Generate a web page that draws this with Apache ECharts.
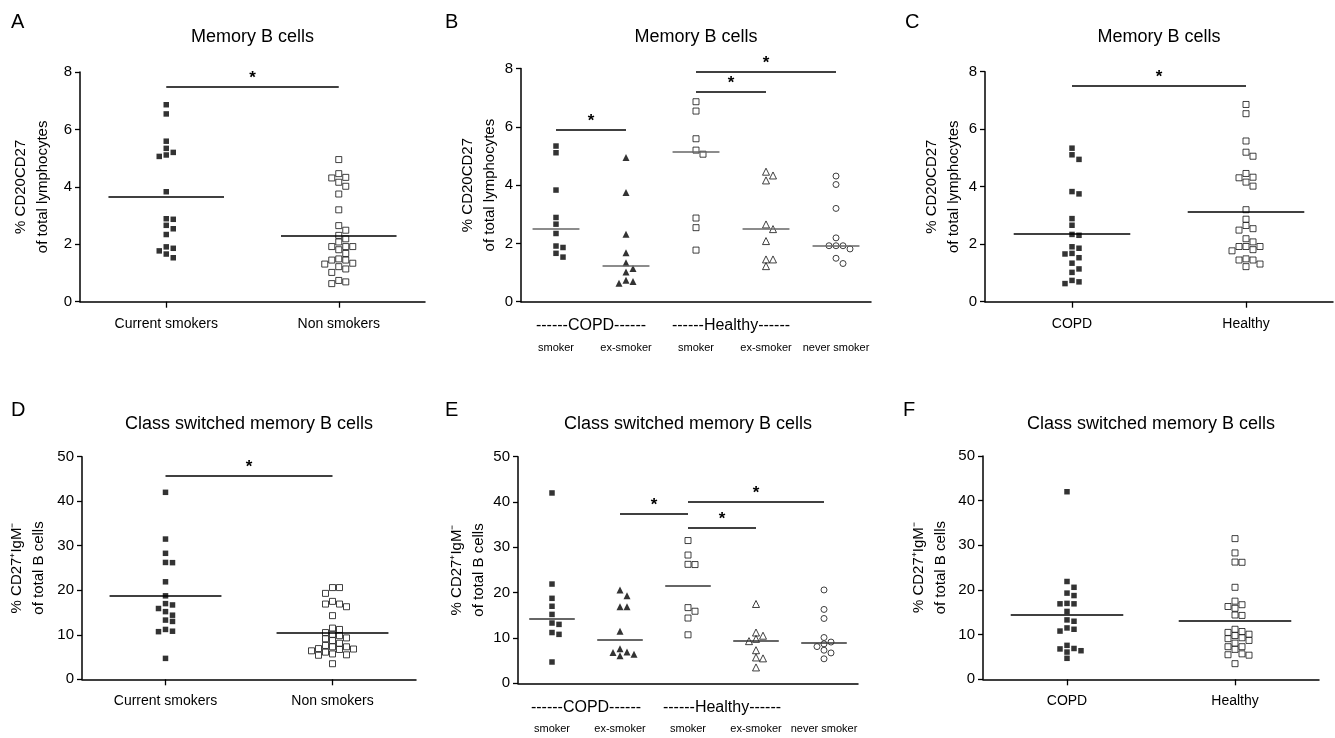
<!DOCTYPE html>
<html><head><meta charset="utf-8">
<script src="https://cdn.jsdelivr.net/npm/echarts@6/dist/echarts.min.js"></script>
<style>html,body{margin:0;padding:0;background:#fff}#c{width:1335px;height:738px}</style>
</head><body><div id="c"></div>
<script>
const FONT = '"Liberation Sans", Arial, Helvetica, sans-serif';

// ---- Memory B cells (% CD20CD27 of total lymphocytes) ----
const mbCOPDSmoker    = [5.34, 5.11, 3.83, 2.89, 2.66, 2.34, 1.91, 1.86, 1.66, 1.53];
const mbCOPDEx        = [4.95, 3.75, 2.31, 1.68, 1.34, 1.14, 1.02, 0.74, 0.69, 0.63];
const mbHealthySmoker = [6.86, 6.54, 5.59, 5.20, 5.06, 2.87, 2.54, 1.77];
const mbHealthyEx     = [4.46, 4.33, 4.16, 2.65, 2.49, 2.08, 1.45, 1.45, 1.22];
const mbNever         = [4.31, 4.02, 3.20, 2.19, 1.92, 1.92, 1.92, 1.81, 1.49, 1.31];

// ---- Class switched memory B cells (% CD27+IgM- of total B cells) ----
const csCOPDSmoker    = [42.0, 21.9, 18.75, 17.0, 15.2, 13.3, 13.0, 11.2, 10.8, 4.7];
const csCOPDEx        = [20.6, 19.3, 16.9, 16.9, 11.5, 7.6, 6.9, 6.8, 6.4, 6.1];
const csHealthySmoker = [31.5, 28.3, 26.25, 26.2, 16.7, 15.9, 14.4, 10.7];
const csHealthyEx     = [17.5, 11.2, 10.5, 9.8, 9.3, 7.3, 5.7, 5.5, 3.5];
const csNever         = [20.6, 16.3, 14.3, 10.1, 9.1, 8.7, 8.1, 7.3, 6.7, 5.4];

// ---- categories / labels ----
const catsSmoking  = ['Current smokers', 'Non smokers'];
const catsDisease  = ['COPD', 'Healthy'];
const catsSubgroup = ['smoker', 'ex-smoker', 'smoker', 'ex-smoker', 'never smoker'];
const subgroupHeaders = ['------COPD------', '------Healthy------'];
const subgroupHeaderCenters = [1, 3];
const panelLetters = ['A', 'B', 'C', 'D', 'E', 'F'];
const titleMB = 'Memory B cells';
const titleCS = 'Class switched memory B cells';
const yNameMB = ['% CD20CD27', 'of total lymphocytes'];
const yNameCS = ['% CD27\u207AIgM\u207B', 'of total B cells'];
const ticksMB = [0, 2, 4, 6, 8];
const ticksCS = [0, 10, 20, 30, 40, 50];

// ---- significance bars: [from category, to category, height] ----
const sigA = [[0, 1, 7.5]];
const sigB = [[0, 1, 5.9], [2, 3, 7.2], [2, 4, 7.9]];
const sigC = [[0, 1, 7.5]];
const sigD = [[0, 1, 45.8]];
const sigE = [[1, 2, 37.4], [2, 3, 34.3], [2, 4, 40.1]];
const sigF = [];

// pooled groups
const mbCurrent = mbCOPDSmoker.concat(mbHealthySmoker);
const mbNon     = mbCOPDEx.concat(mbHealthyEx, mbNever);
const mbCOPD    = mbCOPDSmoker.concat(mbCOPDEx);
const mbHealthy = mbHealthySmoker.concat(mbHealthyEx, mbNever);
const csCurrent = csCOPDSmoker.concat(csHealthySmoker);
const csNon     = csCOPDEx.concat(csHealthyEx, csNever);
const csCOPD    = csCOPDSmoker.concat(csCOPDEx);
const csHealthy = csHealthySmoker.concat(csHealthyEx, csNever);

const markStyles = {
  fsq:   {symbol: 'rect', symbolSize: 5.5, itemStyle: {color: '#000'}},
  osq:   {symbol: 'rect', symbolSize: 6, itemStyle: {color: '#fff', borderColor: '#111', borderWidth: 1}},
  ftri:  {symbol: 'triangle', symbolSize: 7, itemStyle: {color: '#000'}},
  otri:  {symbol: 'triangle', symbolSize: 7, itemStyle: {color: '#fff', borderColor: '#111', borderWidth: 1}},
  ocirc: {symbol: 'circle', symbolSize: 6, itemStyle: {color: '#fff', borderColor: '#111', borderWidth: 1}}
};

const panels = [
  {grid: {left: 80, top: 72, width: 345, height: 229.7}, cats: catsSmoking, groups: [mbCurrent, mbNon], marks: ['fsq', 'osq'],
   ticks: ticksMB, title: titleMB, yName: yNameMB, nameGap: 26, stat: 'mean', sig: sigA, xTick: true, labelMargin: 15, small: false, lineColor: '#000'},
  {grid: {left: 521, top: 68.5, width: 350, height: 233.2}, cats: catsSubgroup, groups: [mbCOPDSmoker, mbCOPDEx, mbHealthySmoker, mbHealthyEx, mbNever], marks: ['fsq', 'ftri', 'osq', 'otri', 'ocirc'],
   ticks: ticksMB, title: titleMB, yName: yNameMB, nameGap: 20, stat: 'median', sig: sigB, xTick: false, labelMargin: 41, small: true, lineColor: '#666'},
  {grid: {left: 985, top: 71.7, width: 348, height: 230}, cats: catsDisease, groups: [mbCOPD, mbHealthy], marks: ['fsq', 'osq'],
   ticks: ticksMB, title: titleMB, yName: yNameMB, nameGap: 20, stat: 'mean', sig: sigC, xTick: true, labelMargin: 15, small: false, lineColor: '#000'},
  {grid: {left: 82, top: 456.7, width: 334, height: 222.6}, cats: catsSmoking, groups: [csCurrent, csNon], marks: ['fsq', 'osq'],
   ticks: ticksCS, title: titleCS, yName: yNameCS, nameGap: 32, stat: 'mean', sig: sigD, xTick: true, labelMargin: 15, small: false, lineColor: '#000'},
  {grid: {left: 518, top: 456.7, width: 340, height: 226.6}, cats: catsSubgroup, groups: [csCOPDSmoker, csCOPDEx, csHealthySmoker, csHealthyEx, csNever], marks: ['fsq', 'ftri', 'osq', 'otri', 'ocirc'],
   ticks: ticksCS, title: titleCS, yName: yNameCS, nameGap: 24, stat: 'median', sig: sigE, xTick: false, labelMargin: 40, small: true, lineColor: '#333'},
  {grid: {left: 983, top: 456, width: 336, height: 223.3}, cats: catsDisease, groups: [csCOPD, csHealthy], marks: ['fsq', 'osq'],
   ticks: ticksCS, title: titleCS, yName: yNameCS, nameGap: 31, stat: 'mean', sig: sigF, xTick: true, labelMargin: 15, small: false, lineColor: '#000'}
];
const letterPos = [[11, 12], [445, 12], [905, 12], [11, 400], [445, 400], [903, 400]];

function mean(a) { return a.reduce((s, v) => s + v, 0) / a.length; }
function median(a) { const s = a.slice().sort((x, y) => x - y); const n = s.length; return n % 2 ? s[(n - 1) / 2] : (s[n / 2 - 1] + s[n / 2]) / 2; }

// simple column swarm: spread points that would overlap into side slots
function swarm(vals, center, pxPerUnitY, unitsPerPxX) {
  const order = vals.map((v, i) => i).sort((a, b) => vals[b] - vals[a]);
  const slots = [0, 1, -1, 2, -2, 3, -3, 4, -4, 5, -5, 6, -6];
  const placed = [];
  const out = [];
  order.forEach(i => {
    const v = vals[i];
    let k = 0;
    for (const s of slots) {
      if (!placed.some(p => p.s === s && Math.abs(p.v - v) * pxPerUnitY < 6)) { k = s; break; }
    }
    placed.push({s: k, v: v});
    out.push([center + k * 7 * unitsPerPxX, v]);
  });
  return out;
}

const grids = [], xAxes = [], yAxes = [], series = [];
panels.forEach((p, pi) => {
  const n = p.cats.length;
  const ymax = p.ticks[p.ticks.length - 1];
  grids.push(Object.assign({containLabel: false}, p.grid));
  xAxes.push({
    type: 'category', gridIndex: pi, data: p.cats, boundaryGap: true,
    axisLine: {lineStyle: {color: '#000', width: 1.5}},
    axisTick: {show: p.xTick, alignWithLabel: true, length: 6, lineStyle: {color: '#000', width: 1.3}},
    axisLabel: {interval: 0, color: '#000', fontFamily: FONT, fontSize: p.small ? 11 : 14, margin: p.labelMargin},
    splitLine: {show: false}
  });
  xAxes.push({type: 'value', gridIndex: pi, min: 0, max: n, show: false, splitLine: {show: false}});
  yAxes.push({
    type: 'value', gridIndex: pi, min: 0, max: ymax, interval: p.ticks[1] - p.ticks[0],
    axisLine: {show: true, lineStyle: {color: '#000', width: 1.5}},
    axisTick: {show: true, length: 5, lineStyle: {color: '#000', width: 1.3}},
    axisLabel: {color: '#000', fontFamily: FONT, fontSize: 15, margin: 8},
    splitLine: {show: false},
    name: p.yName.join('\n'), nameLocation: 'middle', nameRotate: 90, nameGap: p.nameGap,
    nameTextStyle: {color: '#000', fontFamily: FONT, fontSize: 15, lineHeight: 22}
  });
  const pxPerUnitY = p.grid.height / ymax;
  const unitsPerPxX = n / p.grid.width;
  p.groups.forEach((g, gi) => {
    const c = gi + 0.5;
    const m = p.stat === 'mean' ? mean(g) : median(g);
    const ml = [[{coord: [c - 0.335, m], lineStyle: {color: p.lineColor, width: 1.5, type: 'solid'}, label: {show: false}}, {coord: [c + 0.335, m]}]];
    if (gi === 0) {
      p.sig.forEach(s => {
        ml.push([{coord: [s[0] + 0.5, s[2]], lineStyle: {color: '#000', width: 1.6, type: 'solid'},
                  label: {show: true, formatter: '*', position: 'insideMiddleTop', distance: 0, color: '#000', fontFamily: FONT, fontSize: 17, fontWeight: 'bold'}},
                 {coord: [s[1] + 0.5, s[2]]}]);
      });
    }
    const st = markStyles[p.marks[gi]];
    series.push({
      type: 'scatter', xAxisIndex: 2 * pi + 1, yAxisIndex: pi,
      symbol: st.symbol, symbolSize: st.symbolSize, itemStyle: st.itemStyle,
      data: swarm(g, c, pxPerUnitY, unitsPerPxX), z: 3,
      markLine: {silent: true, symbol: ['none', 'none'], animation: false, z: 4,
                 lineStyle: {type: 'solid', color: '#000', width: 1.5}, data: ml}
    });
  });
});

const chart = echarts.init(document.getElementById('c'));
chart.setOption({animation: false, backgroundColor: '#fff', grid: grids, xAxis: xAxes, yAxis: yAxes, series: series});

const graphics = [];
panels.forEach((p, pi) => {
  graphics.push({type: 'text', x: letterPos[pi][0], y: letterPos[pi][1],
    style: {text: panelLetters[pi], font: '20px ' + FONT, fill: '#000', textAlign: 'left', textVerticalAlign: 'top'}});
  graphics.push({type: 'text', x: p.grid.left + p.grid.width / 2, y: pi < 3 ? 37 : 424,
    style: {text: p.title, font: '18px ' + FONT, fill: '#000', textAlign: 'center', textVerticalAlign: 'middle'}});
  if (p.small) {
    subgroupHeaders.forEach((h, j) => {
      const x = chart.convertToPixel({xAxisIndex: 2 * pi + 1}, subgroupHeaderCenters[j]);
      graphics.push({type: 'text', x: x, y: p.grid.top + p.grid.height + 24,
        style: {text: h, font: '16px ' + FONT, fill: '#000', textAlign: 'center', textVerticalAlign: 'middle'}});
    });
  }
});
chart.setOption({graphic: graphics});
</script></body></html>
